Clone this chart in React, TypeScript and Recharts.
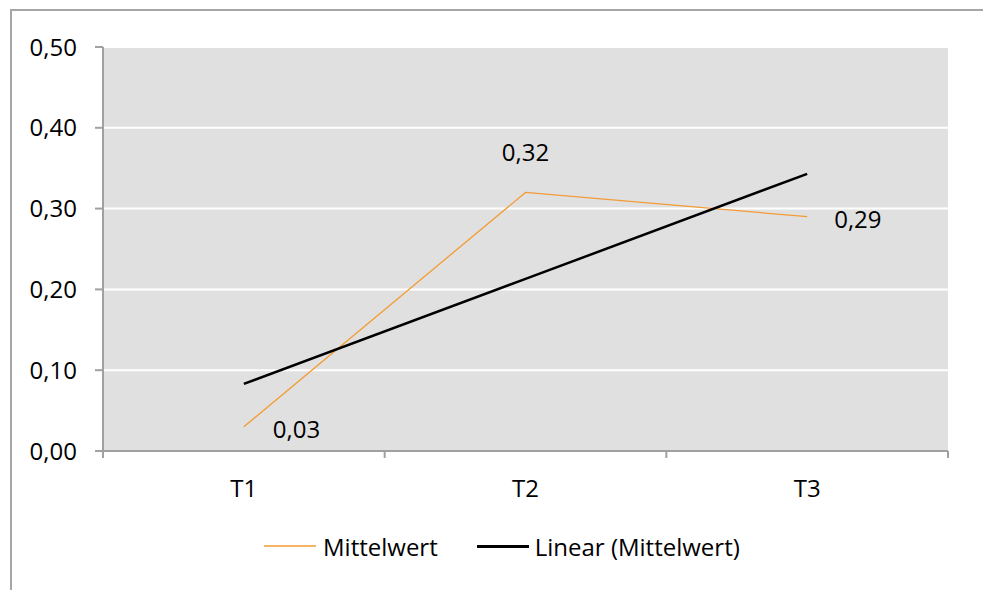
import { LineChart, Line, XAxis, YAxis, CartesianGrid, LabelList } from "recharts";

const categories = ["T1", "T2", "T3"];
const mittelwert = [0.03, 0.32, 0.29];
const linear = [0.083, 0.213, 0.343];
const yTicks = [0, 0.1, 0.2, 0.3, 0.4, 0.5];
const xTicks = [0.5, 1, 1.5, 2, 2.5, 3, 3.5];

const data = categories.map((name, i) => ({
    x: i + 1,
    name,
    mittelwert: mittelwert[i],
    linear: linear[i],
}));

const FONT = "'Open Sans', sans-serif";
const FS = 24;
const fmt = (v: number) => v.toFixed(2).replace(".", ",");

function XTick(props: any) {
    const { x, y, payload } = props;
    const v = payload.value;
    if (Number.isInteger(v)) {
        return (
            <text x={x} y={y + 36} textAnchor="middle" dominantBaseline="central"
                fontSize={FS} fontFamily={FONT} fill="#000">
                {categories[v - 1]}
            </text>
        );
    }
    return <line x1={x} y1={y} x2={x} y2={y + 7} stroke="#a0a0a0" strokeWidth={2} />;
}

function PointLabel(props: any) {
    const { x, y, index, value } = props;
    let dx = 29, dy = 2, anchor = "start";
    if (index === 1) { dx = 0; dy = -41; anchor = "middle"; }
    if (index === 2) { dx = 27; dy = 2; }
    return (
        <text x={x + dx} y={y + dy} textAnchor={anchor} dominantBaseline="central"
            fontSize={FS} fontFamily={FONT} fill="#000">
            {fmt(value)}
        </text>
    );
}

export default function App() {
    return (
        <div style={{ position: "fixed", left: 0, top: 0, width: 983, height: 590, background: "#fff", overflow: "hidden", fontFamily: FONT }}>
            <div style={{ position: "absolute", left: 10, top: 9, width: 1000, height: 600, borderLeft: "2px solid #a6a6a6", borderTop: "2px solid #a6a6a6" }} />
            <div style={{ position: "absolute", left: 0, top: 0 }}>
                <LineChart width={983} height={590} data={data} margin={{ top: 47, right: 35, left: 0, bottom: 99 }}>
                    <CartesianGrid vertical={false} fill="#e0e0e0" stroke="#ffffff" strokeWidth={2} />
                    <XAxis dataKey="x" type="number" domain={[0.5, 3.5]} ticks={xTicks} height={40}
                        tickLine={false} tickSize={0} tickMargin={0} interval={0}
                        axisLine={{ stroke: "#a0a0a0", strokeWidth: 2 }} tick={<XTick />} />
                    <YAxis domain={[0, 0.5]} ticks={yTicks} width={103} tickFormatter={fmt}
                        tickSize={8} tickMargin={18}
                        tickLine={{ stroke: "#a0a0a0", strokeWidth: 2 }}
                        axisLine={{ stroke: "#a0a0a0", strokeWidth: 2 }}
                        tick={{ fontSize: FS, fontFamily: FONT, fill: "#000" }} />
                    <Line type="linear" dataKey="mittelwert" stroke="#f39b34" strokeWidth={1.3} dot={false} isAnimationActive={false}>
                        <LabelList dataKey="mittelwert" content={<PointLabel />} />
                    </Line>
                    <Line type="linear" dataKey="linear" stroke="#000" strokeWidth={2.5} dot={false} isAnimationActive={false} />
                </LineChart>
            </div>
            <div style={{ position: "absolute", left: 264, top: 530, height: 32, display: "flex", alignItems: "center", fontSize: FS, color: "#000", whiteSpace: "nowrap" }}>
                <span style={{ display: "inline-block", width: 52, height: 2, background: "#f5b366" }} />
                <span style={{ marginLeft: 7 }}>Mittelwert</span>
                <span style={{ display: "inline-block", width: 52, height: 3, background: "#000", marginLeft: 39 }} />
                <span style={{ marginLeft: 6 }}>Linear (Mittelwert)</span>
            </div>
        </div>
    );
}
